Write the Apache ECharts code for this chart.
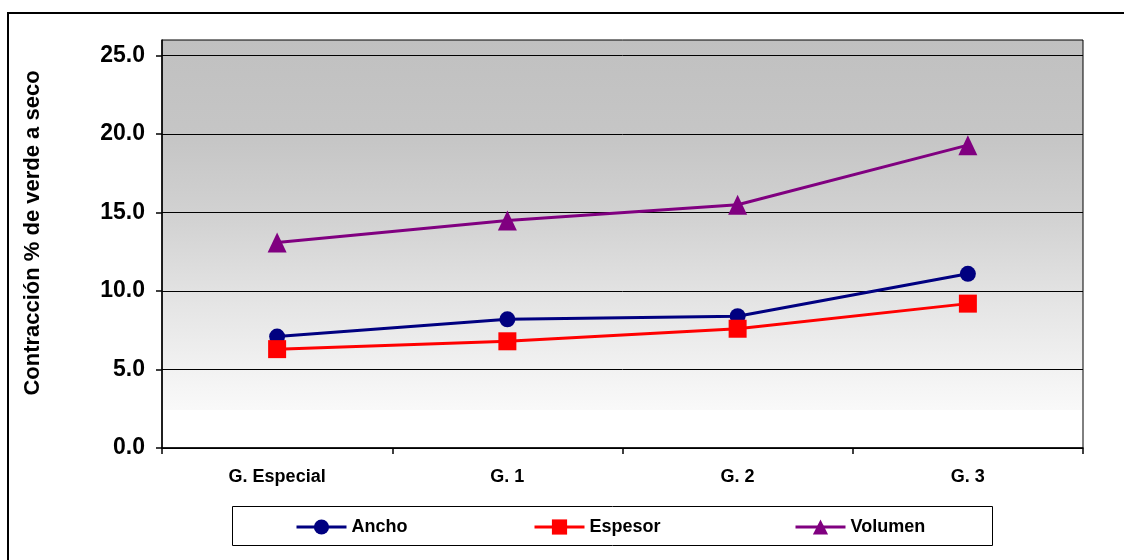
<!DOCTYPE html>
<html>
<head>
<meta charset="utf-8">
<script src="https://cdn.jsdelivr.net/npm/echarts@6/dist/echarts.min.js"></script>
<style>
  html, body { margin: 0; padding: 0; background: #ffffff; }
  #chart { width: 1124px; height: 560px; }
</style>
</head>
<body>
<div id="chart"></div>
<script>
// Shrinkage (green to dry) by grade
const categories = ['G. Especial', 'G. 1', 'G. 2', 'G. 3'];
const ancho = [7.1, 8.2, 8.4, 11.1];
const espesor = [6.3, 6.8, 7.6, 9.2];
const volumen = [13.1, 14.5, 15.5, 19.3];
const yTicks = [0, 5, 10, 15, 20, 25];
const yAxisTitle = 'Contracción % de verde a seco';

const FONT = '"Liberation Sans", Arial, sans-serif';

const chart = echarts.init(document.getElementById('chart'), null, { renderer: 'canvas' });

const plotFill = {
  type: 'linear', x: 0, y: 0, x2: 0, y2: 1,
  colorStops: [
    { offset: 0, color: '#c0c0c0' },
    { offset: 0.25, color: '#c6c6c6' },
    { offset: 0.45, color: '#d3d3d3' },
    { offset: 0.65, color: '#e5e5e5' },
    { offset: 0.85, color: '#f5f5f5' },
    { offset: 0.905, color: '#f9f9f9' },
    { offset: 0.906, color: '#ffffff' },
    { offset: 1, color: '#ffffff' }
  ]
};

function legendAt(name, left) {
  return {
    data: [name],
    left: left,
    top: 518,
    padding: 0,
    itemWidth: 50,
    itemHeight: 19,
    itemGap: 0,
    lineStyle: { width: 3 },
    textStyle: { fontFamily: FONT, fontSize: 18, fontWeight: 'bold', color: '#000' }
  };
}

const option = {
  animation: false,
  backgroundColor: '#ffffff',
  graphic: [
    {
      type: 'rect', z: -10, silent: true,
      shape: { x: 8, y: 13, width: 1300, height: 700 },
      style: { fill: 'none', stroke: '#000', lineWidth: 2 }
    },
    {
      type: 'rect', z: -5, silent: true,
      shape: { x: 232.5, y: 506.5, width: 760, height: 39 },
      style: { fill: '#ffffff', stroke: '#000', lineWidth: 1 }
    }
  ],
  grid: {
    left: 162, right: 41, top: 40, bottom: 112,
    show: true,
    backgroundColor: plotFill,
    borderColor: '#000',
    borderWidth: 1
  },
  legend: [
    legendAt('Ancho', 295),
    legendAt('Espesor', 533),
    legendAt('Volumen', 794)
  ],
  xAxis: {
    type: 'category',
    data: categories,
    boundaryGap: true,
    axisLine: { lineStyle: { color: '#000', width: 1.5 } },
    axisTick: { show: true, alignWithLabel: false, length: 6, lineStyle: { color: '#000', width: 1.5 } },
    axisLabel: {
      margin: 20,
      fontFamily: FONT, fontSize: 18, fontWeight: 'bold', color: '#000'
    },
    splitLine: { show: false }
  },
  yAxis: {
    type: 'value',
    min: 0,
    max: 26,
    interval: 5,
    name: yAxisTitle,
    nameLocation: 'middle',
    nameRotate: 90,
    nameGap: 118,
    nameTextStyle: {
      fontFamily: FONT, fontSize: 22, fontWeight: 'bold', color: '#000',
      padding: [0, 0, 0, 22]
    },
    axisLine: { show: true, lineStyle: { color: '#000', width: 1.5 } },
    axisTick: {
      show: true, length: 6, lineStyle: { color: '#000', width: 1.5 },
      customValues: yTicks
    },
    axisLabel: {
      margin: 17,
      customValues: yTicks,
      formatter: v => v.toFixed(1),
      fontFamily: FONT, fontSize: 23, fontWeight: 'bold', color: '#000'
    },
    splitLine: { show: true, lineStyle: { color: '#000', width: 1 } }
  },
  series: [
    {
      name: 'Ancho', type: 'line', data: ancho,
      symbol: 'circle', symbolSize: 16,
      color: '#000080',
      lineStyle: { color: '#000080', width: 3 },
      itemStyle: { color: '#000080' }
    },
    {
      name: 'Espesor', type: 'line', data: espesor,
      symbol: 'rect', symbolSize: 18,
      color: '#ff0000',
      lineStyle: { color: '#ff0000', width: 3 },
      itemStyle: { color: '#ff0000' }
    },
    {
      name: 'Volumen', type: 'line', data: volumen,
      symbol: 'triangle', symbolSize: [19, 20],
      color: '#800080',
      lineStyle: { color: '#800080', width: 3 },
      itemStyle: { color: '#800080' }
    }
  ]
};

chart.setOption(option);
</script>
</body>
</html>
